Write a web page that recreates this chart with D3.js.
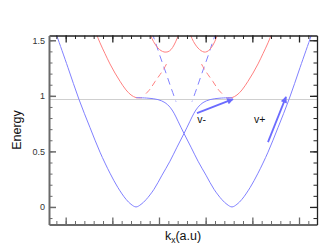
<!DOCTYPE html>
<html><head><meta charset="utf-8">
<script src="https://cdn.jsdelivr.net/npm/d3@7"></script>
<style>body{margin:0;background:#fff}svg{display:block}</style>
</head><body>
<script>
// ---- data (k in a.u., E in energy units) ----
const lowerBranchA = [[-2.750,1.666],[-2.652,1.544],[-2.417,1.254],[-2.188,0.968],[-1.958,0.714],[-1.750,0.493],[-1.542,0.304],[-1.375,0.173],[-1.208,0.069],[-1.104,0.024],[-1.000,0.000],[-0.896,0.023],[-0.792,0.065],[-0.625,0.159],[-0.458,0.286],[-0.292,0.412],[-0.146,0.538],[0.000,0.661],[0.125,0.772],[0.208,0.844],[0.292,0.898],[0.396,0.939],[0.542,0.966],[0.750,0.979],[1.000,0.984]];
const lowerBranchB = [[2.750,1.666],[2.652,1.544],[2.417,1.254],[2.188,0.968],[1.958,0.714],[1.750,0.493],[1.542,0.304],[1.375,0.173],[1.208,0.069],[1.104,0.024],[1.000,0.000],[0.896,0.023],[0.792,0.065],[0.625,0.159],[0.458,0.286],[0.292,0.412],[0.146,0.538],[0.000,0.661],[-0.125,0.772],[-0.208,0.844],[-0.292,0.898],[-0.396,0.939],[-0.542,0.966],[-0.750,0.979],[-1.000,0.984]];
const replicaLeft = [[-1.875,1.619],[-1.813,1.544],[-1.750,1.477],[-1.646,1.380],[-1.542,1.287],[-1.438,1.205],[-1.333,1.131],[-1.208,1.053],[-1.104,1.008],[-1.000,0.984],[-0.875,0.983]];
const replicaRight = [[1.875,1.619],[1.813,1.544],[1.750,1.477],[1.646,1.380],[1.542,1.287],[1.438,1.205],[1.333,1.131],[1.208,1.053],[1.104,1.008],[1.000,0.984],[0.875,0.983]];
const upperBranchA = [[-0.708,1.565],[-0.667,1.515],[-0.604,1.466],[-0.542,1.430],[-0.479,1.407],[-0.417,1.395],[-0.375,1.394],[-0.333,1.397],[-0.271,1.416],[-0.208,1.457],[-0.146,1.515],[-0.104,1.565]];
const upperBranchB = [[0.125,1.565],[0.167,1.515],[0.229,1.466],[0.292,1.430],[0.354,1.407],[0.417,1.394],[0.479,1.398],[0.542,1.420],[0.604,1.457],[0.667,1.515],[0.708,1.565]];
const bareBlueA = [[-0.667,1.569],[-0.604,1.493],[-0.500,1.358],[-0.375,1.205],[-0.271,1.074],[-0.167,0.948]];
const bareBlueB = [[0.667,1.569],[0.604,1.493],[0.500,1.358],[0.375,1.205],[0.271,1.074],[0.167,0.948]];
const bareRedA = [[-0.792,1.020],[-0.708,1.060],[-0.604,1.128],[-0.500,1.191],[-0.417,1.245],[-0.333,1.313]];
const bareRedB = [[0.792,1.020],[0.708,1.060],[0.604,1.128],[0.500,1.191],[0.417,1.245],[0.333,1.313]];
const refEnergy = [0.967];
const arrows = [{name:"v-", from:[0.271,0.844], to:[1.021,0.970], label:[0.275,0.755]},
                {name:"v+", from:[1.750,0.583], to:[2.125,0.990], label:[1.460,0.755]}];
const yTickLabels = [0, 0.5, 1, 1.5];
const yMinorTicks = [-0.1,0,0.1,0.2,0.3,0.4,0.5,0.6,0.7,0.8,0.9,1.0,1.1,1.2,1.3,1.4,1.5];
const xMajorTicks = [-2.465,-1.493,-0.521,0.451,1.424,2.396];
const xMinorTicks = [-2.659,-2.465,-2.271,-2.076,-1.882,-1.687,-1.493,-1.299,-1.104,-0.910,-0.715,-0.521,-0.326,-0.132,0.062,0.257,0.451,0.646,0.840,1.035,1.229,1.424,1.618,1.813,2.007,2.201,2.396,2.590];

// ---- layout ----
const W=327,H=245, L=49,R=317,T=35.5,B=224.5;
const BLUE="#8080ff", RED="#ff8080", ARROW="#6b6bff";
const x=d3.scaleLinear().domain([-2.8125,2.7708]).range([L,R]);
const y=d3.scaleLinear().domain([-0.158,1.543]).range([B,T]);

const svg=d3.select("body").append("svg").attr("width",W).attr("height",H)
  .style("font-family","'Liberation Sans',Arial,sans-serif");
svg.append("defs").append("clipPath").attr("id","clip")
  .append("rect").attr("x",L).attr("y",T).attr("width",R-L).attr("height",B-T);
svg.select("defs").append("marker").attr("id","ah").attr("viewBox","0 0 10 10")
  .attr("refX",9).attr("refY",5).attr("markerWidth",4.2).attr("markerHeight",3.6)
  .attr("orient","auto").attr("markerUnits","strokeWidth")
  .append("path").attr("d","M0,0L10,5L0,10Z").attr("fill",ARROW);

const plot=svg.append("g").attr("clip-path","url(#clip)");
plot.selectAll("line.ref").data(refEnergy).join("line").attr("class","ref")
  .attr("x1",L).attr("x2",R).attr("y1",d=>y(d)).attr("y2",d=>y(d))
  .attr("stroke","#cfcfcf").attr("stroke-width",1);

const line=d3.line().x(d=>x(d[0])).y(d=>y(d[1])).curve(d3.curveCatmullRom.alpha(0.5));
const curves=[
  {d:bareBlueA,c:BLUE,dash:"7,5"},{d:bareBlueB,c:BLUE,dash:"7,5"},
  {d:bareRedA,c:RED,dash:"6,4"},{d:bareRedB,c:RED,dash:"6,4"},
  {d:replicaLeft,c:RED},{d:replicaRight,c:RED},
  {d:upperBranchA,c:RED},{d:upperBranchB,c:RED},
  {d:lowerBranchA,c:BLUE},{d:lowerBranchB,c:BLUE}
];
plot.selectAll("path.band").data(curves).join("path").attr("class","band")
  .attr("d",d=>line(d.d)).attr("fill","none").attr("stroke",d=>d.c)
  .attr("stroke-width",1).attr("stroke-dasharray",d=>d.dash||null);

svg.selectAll("line.arrow").data(arrows).join("line").attr("class","arrow")
  .attr("x1",d=>x(d.from[0])).attr("y1",d=>y(d.from[1]))
  .attr("x2",d=>x(d.to[0])).attr("y2",d=>y(d.to[1]))
  .attr("stroke",ARROW).attr("stroke-width",1.8).attr("marker-end","url(#ah)");
svg.selectAll("text.alab").data(arrows).join("text").attr("class","alab")
  .attr("x",d=>x(d.label[0])).attr("y",d=>y(d.label[1]))
  .attr("font-size",10.5).attr("fill","#111").text(d=>d.name);

// ---- axes ----
function style(g,col,w){g.select(".domain").attr("stroke",col).attr("stroke-width",w);g.selectAll(".tick line").attr("stroke",col);}
const AX="#6a6a6a";
svg.append("g").attr("transform",`translate(0,${B})`)
  .call(d3.axisBottom(x).tickValues(xMinorTicks).tickSize(-3.5).tickSizeOuter(0).tickFormat(""))
  .call(g=>style(g,AX,2));
svg.append("g").attr("transform",`translate(0,${B})`)
  .call(d3.axisBottom(x).tickValues(xMajorTicks).tickSize(-7).tickSizeOuter(0).tickFormat(""))
  .call(g=>{g.select(".domain").remove();g.selectAll(".tick line").attr("stroke",AX).attr("stroke-width",1.3);});
svg.append("g").attr("transform",`translate(0,${T})`)
  .call(d3.axisTop(x).tickValues(xMinorTicks).tickSize(-3.5).tickSizeOuter(0).tickFormat(""))
  .call(g=>style(g,"#222",1.3));
svg.append("g").attr("transform",`translate(0,${T})`)
  .call(d3.axisTop(x).tickValues(xMajorTicks).tickSize(-7).tickSizeOuter(0).tickFormat(""))
  .call(g=>{g.select(".domain").remove();g.selectAll(".tick line").attr("stroke","#222").attr("stroke-width",1.3);});
svg.append("g").attr("transform",`translate(${L},0)`)
  .call(d3.axisLeft(y).tickValues(yMinorTicks).tickSize(-3.5).tickSizeOuter(0).tickFormat(""))
  .call(g=>style(g,AX,2));
svg.append("g").attr("transform",`translate(${L},0)`)
  .call(d3.axisLeft(y).tickValues(yTickLabels).tickSize(-7).tickSizeOuter(0).tickPadding(4).tickFormat(d3.format("")))
  .call(g=>{g.select(".domain").remove();g.selectAll(".tick line").attr("stroke",AX).attr("stroke-width",1.5);
    g.selectAll("text").attr("font-size",9).attr("fill","#333").attr("font-family","'Liberation Sans',Arial,sans-serif");});
svg.append("g").attr("transform",`translate(${R},0)`)
  .call(d3.axisRight(y).tickValues(yMinorTicks).tickSize(-3.5).tickSizeOuter(0).tickFormat(""))
  .call(g=>style(g,"#222",1.3));
svg.append("g").attr("transform",`translate(${R},0)`)
  .call(d3.axisRight(y).tickValues(yTickLabels).tickSize(-7).tickSizeOuter(0).tickFormat(""))
  .call(g=>{g.select(".domain").remove();g.selectAll(".tick line").attr("stroke","#222").attr("stroke-width",1.3);});

svg.append("text").attr("transform","translate(20.5,130) rotate(-90)").attr("text-anchor","middle")
  .attr("font-size",12.5).attr("fill","#111").text("Energy");
const xl=svg.append("text").attr("x",183).attr("y",240).attr("text-anchor","middle")
  .attr("font-size",12.5).attr("fill","#111");
xl.append("tspan").text("k");
xl.append("tspan").attr("font-size",8.5).attr("dy",3).text("x");
xl.append("tspan").attr("dy",-3).text("(a.u)");
</script>
</body></html>
